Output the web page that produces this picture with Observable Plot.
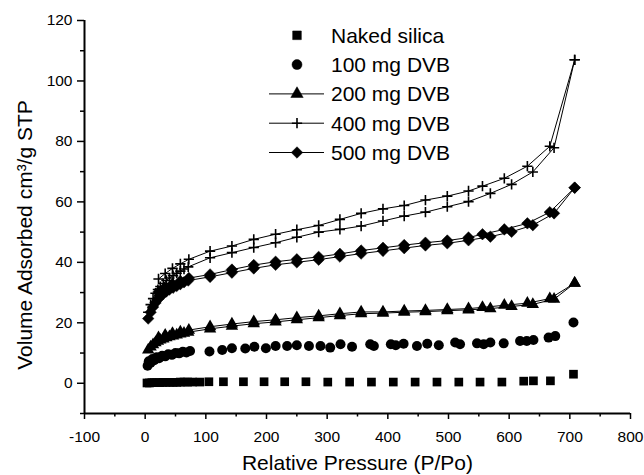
<!DOCTYPE html>
<html><head><meta charset="utf-8">
<script src="https://cdn.jsdelivr.net/npm/d3@7"></script>
<script src="https://cdn.jsdelivr.net/npm/@observablehq/plot@0.6"></script>
<style>body{margin:0;background:#fff;} #chart{width:644px;height:475px;}</style>
</head><body><div id="chart"></div>
<script>
// ---------- data ----------
const xTicks = [-100, 0, 100, 200, 300, 400, 500, 600, 700, 800];
const xMinor = [-50, 50, 150, 250, 350, 450, 550, 650, 750];
const yTicks = [0, 20, 40, 60, 80, 100, 120];
const yMinor = [-10, 10, 30, 50, 70, 90, 110];

const seriesNames = ["Naked silica", "100 mg DVB", "200 mg DVB", "400 mg DVB", "500 mg DVB"];

// adsorption / desorption pressure grid (P/Po axis as plotted)
const pAds = [5, 9, 13, 17, 21, 25, 30, 35, 40, 46, 52, 58, 64, 71, 107, 143, 179, 215, 250, 286, 321, 356, 392, 427, 462, 498, 533, 569, 604, 639, 674, 708];
const pDes = [708, 667, 630, 592, 556, 533, 498, 462, 427, 392, 356, 321, 286, 250, 215, 179, 143, 107, 72, 58, 45, 33, 22];

const dvb400Ads = [23.5, 26, 28, 29.8, 31, 32, 33, 34, 34.8, 35.6, 36.4, 37.1, 37.8, 38.5, 41.5, 43.2, 44.9, 46.5, 48.3, 50.0, 50.9, 52.0, 53.7, 55.3, 56.6, 58.4, 60.1, 62.8, 65.8, 69.9, 77.9, 107];
const dvb400Des = [107, 78.4, 71.8, 67.8, 65.2, 63.6, 61.9, 60.6, 58.8, 57.7, 56.2, 54.2, 52.2, 50.8, 49.3, 47.6, 45.4, 43.7, 41.0, 39.5, 38.0, 36.3, 34.5];

const dvb500Ads = [21.4, 23.5, 25.2, 26.6, 27.8, 28.7, 29.6, 30.4, 31.0, 31.6, 32.2, 32.8, 33.4, 34.0, 35.2, 36.6, 38.0, 39.2, 40.0, 40.9, 41.9, 42.9, 43.8, 44.7, 45.6, 46.3, 47.3, 48.5, 50.1, 52.3, 56.2, 64.7];
const dvb500Des = [64.7, 56.6, 52.9, 50.9, 49.3, 48.2, 47.2, 46.5, 45.7, 44.8, 43.9, 42.8, 41.8, 41.0, 40.2, 39.1, 37.6, 36.0, 34.8, 33.8, 32.8, 31.6, 30.2];

const dvb200Ads = [11.0, 12.0, 12.8, 13.4, 13.9, 14.3, 14.7, 15.1, 15.4, 15.7, 16.0, 16.3, 16.6, 16.9, 18.0, 18.9, 19.7, 20.3, 21.0, 21.7, 22.4, 23.0, 23.2, 23.5, 23.7, 24.0, 24.3, 24.7, 25.4, 26.1, 27.8, 33.1];
const dvb200Des = [33.1, 28.0, 26.5, 25.8, 25.1, 24.7, 24.4, 24.1, 23.9, 23.6, 23.6, 23.0, 22.3, 21.7, 21.0, 20.4, 19.6, 18.7, 17.6, 17.0, 16.5, 15.9, 15.1];

const dvb100P = [4, 6, 9, 12, 15, 19, 23, 28, 33, 38, 44, 50, 56, 62, 68, 74, 106, 127, 143, 165, 180, 199, 215, 234, 250, 270, 289, 305, 322, 341, 371, 377, 405, 413, 426, 448, 465, 484, 511, 519, 547, 558, 569, 591, 618, 629, 640, 665, 676, 706];
const dvb100V = [5.8, 7.3, 6.8, 8.0, 7.6, 8.6, 8.3, 9.1, 8.9, 9.6, 9.4, 10.0, 9.9, 10.4, 10.2, 10.7, 10.5, 11.0, 11.6, 11.5, 12.1, 11.6, 12.3, 12.3, 12.6, 12.3, 12.3, 11.8, 12.9, 12.1, 12.9, 12.3, 12.9, 12.6, 13.1, 12.3, 13.1, 12.6, 13.5, 12.9, 13.2, 12.9, 13.5, 13.2, 14.0, 14.0, 14.3, 15.1, 15.6, 20.1];

const silicaP = [3, 7, 11, 15, 19, 24, 29, 34, 40, 46, 52, 58, 64, 70, 78, 90, 105, 129, 162, 196, 230, 265, 301, 337, 373, 409, 445, 481, 517, 552, 588, 624, 640, 668, 706];
const silicaV = [0.1, 0.1, 0.2, 0.2, 0.2, 0.2, 0.3, 0.3, 0.3, 0.3, 0.3, 0.4, 0.4, 0.4, 0.4, 0.4, 0.5, 0.5, 0.5, 0.5, 0.5, 0.5, 0.4, 0.4, 0.4, 0.4, 0.4, 0.4, 0.4, 0.4, 0.4, 0.7, 0.8, 0.8, 3.0];

// ---------- build ----------
const rows = (p, v) => p.map((x, i) => ({x, y: v[i]}));
const font = "'Liberation Sans', Arial, Helvetica, sans-serif";

const R = {square: 4.9, circle: 5, triangle: 4.6, plus: 3.4, diamond2: 5.2};

const lineOpts = {x: "x", y: "y", stroke: "black", strokeWidth: 1};
const plot = Plot.plot({
  width: 644, height: 475,
  marginLeft: 84, marginRight: 14, marginTop: 20, marginBottom: 62,
  style: {fontFamily: font, fontSize: "15.5px", color: "black", background: "white", overflow: "visible"},
  x: {domain: [-100, 800]},
  y: {domain: [-10, 120]},
  marks: [
    // series lines
    Plot.line(rows(pAds, dvb200Ads), lineOpts),
    Plot.line(rows(pDes, dvb200Des), lineOpts),
    Plot.line(rows(pAds, dvb400Ads), lineOpts),
    Plot.line(rows(pDes, dvb400Des), lineOpts),
    Plot.line(rows(pAds, dvb500Ads), lineOpts),
    Plot.line(rows(pDes, dvb500Des), lineOpts),
    // symbols
    Plot.dot(rows(silicaP, silicaV), {x: "x", y: "y", symbol: "square", r: R.square, fill: "black"}),
    Plot.dot(rows(dvb100P, dvb100V), {x: "x", y: "y", symbol: "circle", r: R.circle, fill: "black"}),
    Plot.dot(rows(pAds, dvb200Ads).concat(rows(pDes, dvb200Des)), {x: "x", y: "y", symbol: "triangle", r: R.triangle, fill: "black"}),
    Plot.dot(rows(pAds, dvb400Ads).concat(rows(pDes, dvb400Des)), {x: "x", y: "y", symbol: "plus", r: R.plus, stroke: "black", strokeWidth: 1.6, fill: "none"}),
    Plot.dot(rows(pAds, dvb500Ads).concat(rows(pDes, dvb500Des)), {x: "x", y: "y", symbol: "diamond2", r: R.diamond2, fill: "black", stroke: "black", strokeWidth: 0.5}),
    // axes
    Plot.axisX({ticks: xTicks, tickSize: 6, tickPadding: 11, tickFormat: d => String(d), label: null, strokeWidth: 1.5, fontSize: 15.5}),
    Plot.axisX({ticks: xMinor, tickSize: 3.5, tickFormat: () => "", label: null, strokeWidth: 1.5}),
    Plot.axisY({ticks: yTicks, tickSize: 7, tickPadding: 5, tickFormat: d => String(d), label: null, strokeWidth: 1.5, fontSize: 15.5}),
    Plot.axisY({ticks: yMinor, tickSize: 4, tickFormat: () => "", label: null, strokeWidth: 1.5}),
    Plot.ruleY([-10], {strokeWidth: 2}),
    Plot.ruleX([-100], {strokeWidth: 2}),
    Plot.text(["Relative Pressure (P/Po)"], {frameAnchor: "bottom", textAnchor: "middle", lineAnchor: "middle", dy: 50, fontSize: 21, fill: "black"}),
    Plot.text(["Volume Adsorbed cm³/g STP"], {frameAnchor: "left", textAnchor: "middle", lineAnchor: "middle", dx: -59, dy: 18, rotate: -90, fontSize: 21, fill: "black"})
  ]
});
document.getElementById("chart").appendChild(plot);

// ---------- legend ----------
const legendSymbols = [d3.symbolSquare, d3.symbolCircle, d3.symbolTriangle, d3.symbolPlus, d3.symbolDiamond2];
const legendSizes = [R.square, R.circle, R.triangle, R.plus, R.diamond2];
const legendHasLine = [false, false, true, true, true];
const svg = d3.select(plot);
const lg = svg.append("g").attr("font-family", font).attr("font-size", 21).attr("text-anchor", "start");
seriesNames.forEach((name, i) => {
  const cy = 35.3 + i * 29.3;
  if (legendHasLine[i]) lg.append("line").attr("x1", 269).attr("x2", 324).attr("y1", cy).attr("y2", cy).attr("stroke", "black").attr("stroke-width", 1);
  const isPlus = legendSymbols[i] === d3.symbolPlus;
  lg.append("path")
    .attr("transform", `translate(297,${cy})`)
    .attr("d", d3.symbol(legendSymbols[i], Math.PI * legendSizes[i] ** 2)())
    .attr("fill", isPlus ? "none" : "black")
    .attr("stroke", "black")
    .attr("stroke-width", isPlus ? 1.6 : 0.5);
  lg.append("text").attr("x", 331).attr("y", cy + 7.5).attr("fill", "black").attr("text-anchor", "start").text(name);
});
</script></body></html>
